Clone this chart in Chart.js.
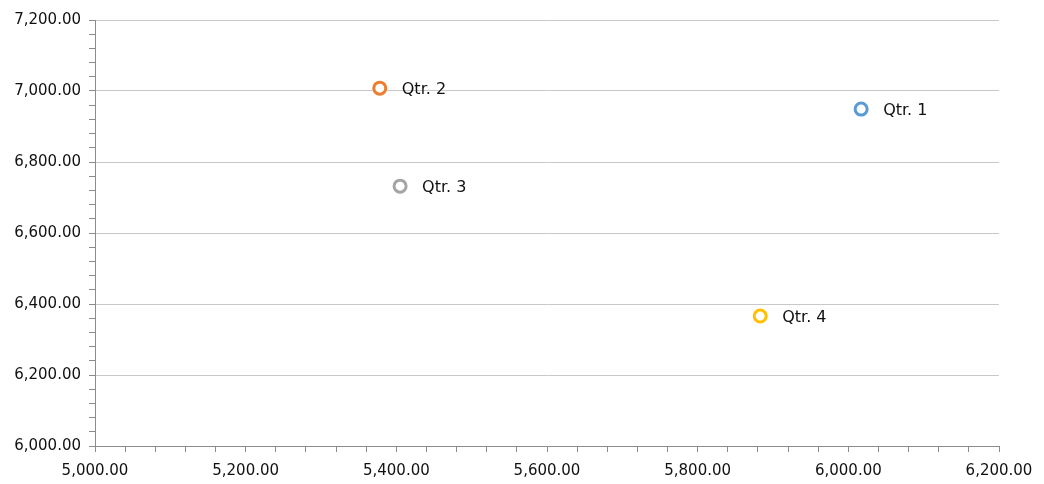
<!DOCTYPE html>
<html>
<head>
<meta charset="utf-8">
<script src="https://cdn.jsdelivr.net/npm/chart.js@4/dist/chart.umd.min.js"></script>
<style>
  html, body { margin: 0; padding: 0; background: #fff; }
  #wrap { width: 1044px; height: 484px; }
</style>
</head>
<body>
<div id="wrap"><canvas id="chart" width="1044" height="484"></canvas></div>
<script>
// data
const quarters = ['Qtr. 1', 'Qtr. 2', 'Qtr. 3', 'Qtr. 4'];
const xValues = [6017, 5378, 5405, 5883];
const yValues = [6949, 7008, 6732, 6366];
const colors = ['#5b9bd5', '#ed7d31', '#a5a5a5', '#ffc000'];

const xMin = 5000, xMax = 6200, yMin = 6000, yMax = 7200;
const majorStep = 200, minorStep = 40;

const isMajor = v => Math.abs(v % majorStep) < 1e-6;
const fmt = v => v.toLocaleString('en-US', { minimumFractionDigits: 2, maximumFractionDigits: 2 });

// draws the "Qtr. n" label next to each point
const pointLabels = {
  id: 'pointLabels',
  afterDatasetsDraw(chart) {
    const ctx = chart.ctx;
    ctx.save();
    ctx.font = '16px "DejaVu Sans"';
    ctx.fillStyle = '#111';
    ctx.textBaseline = 'middle';
    chart.data.datasets.forEach((ds, i) => {
      const pt = chart.getDatasetMeta(i).data[0];
      if (pt) ctx.fillText(ds.label, pt.x + 22, pt.y + 2);
    });
    ctx.restore();
  }
};

new Chart('chart', {
  type: 'scatter',
  data: {
    datasets: quarters.map((q, i) => ({
      label: q,
      data: [{ x: xValues[i], y: yValues[i] }],
      borderColor: colors[i],
      backgroundColor: '#ffffff',
      borderWidth: 3,
      pointRadius: 6
    }))
  },
  options: {
    responsive: false,
    animation: false,
    layout: { padding: { left: 0, right: 45, top: 20, bottom: 0 } },
    plugins: { legend: { display: false }, tooltip: { enabled: false } },
    scales: {
      x: {
        type: 'linear',
        min: xMin, max: xMax,
        afterFit: s => { s.height = 38; },
        border: { color: '#8c8c8c', width: 1 },
        grid: {
          drawOnChartArea: false,
          tickLength: 6,
          tickColor: '#8c8c8c'
        },
        ticks: {
          stepSize: minorStep,
          autoSkip: false,
          maxRotation: 0,
          padding: 10,
          color: '#111',
          font: { family: 'DejaVu Sans', size: 15 },
          callback: v => isMajor(v) ? fmt(v) : ''
        }
      },
      y: {
        type: 'linear',
        min: yMin, max: yMax,
        afterFit: s => { s.width = 95; },
        border: { color: '#8c8c8c', width: 1 },
        grid: {
          tickLength: 6,
          color: ctx => isMajor(ctx.tick.value) ? '#c8c8c8' : 'rgba(0,0,0,0)',
          tickColor: '#8c8c8c'
        },
        ticks: {
          stepSize: minorStep,
          autoSkip: false,
          padding: 8,
          color: '#111',
          font: { family: 'DejaVu Sans', size: 15 },
          callback: v => isMajor(v) ? fmt(v) : ''
        }
      }
    }
  },
  plugins: [pointLabels]
});
</script>
</body>
</html>
